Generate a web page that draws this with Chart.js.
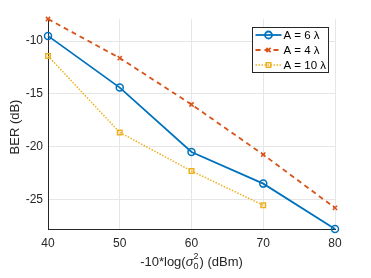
<!DOCTYPE html>
<html>
<head>
<meta charset="utf-8">
<script src="https://cdn.jsdelivr.net/npm/chart.js@4.4.0/dist/chart.umd.min.js"></script>
<style>
  html, body { margin: 0; padding: 0; background: #fff; }
  #wrap { width: 371px; height: 278px; }
</style>
</head>
<body>
<div id="wrap"><canvas id="myChart" width="371" height="278"></canvas></div>
<script>
// values
const xValues = [40, 50, 60, 70, 80];
const berA6 = [-9.5, -14.4, -20.5, -23.5, -27.8];
const berA4 = [-7.9, -11.6, -16.0, -20.75, -25.8];
const berA10 = [-11.4, -18.65, -22.3, -25.55];
const xTicks = [40, 50, 60, 70, 80];
const yTicks = [-25, -20, -15, -10];
const seriesNames = ['A = 6 λ', 'A = 4 λ', 'A = 10 λ'];

const FONT = '"Liberation Sans", Arial, sans-serif';
const blue = '#0072BD', orange = '#D95319', yellow = '#EDB120';

function toPoints(ys) {
  return ys.map((y, i) => ({ x: xValues[i], y: y }));
}

// draws the legend box and both axis titles
const extras = {
  id: 'extras',
  afterDraw(chart) {
    const c = chart.ctx;
    const area = chart.chartArea;
    c.save();

    // legend
    const lx = 252.5, ly = 27.5, lw = 76, lh = 45;
    c.fillStyle = '#fff';
    c.fillRect(lx, ly, lw, lh);
    c.strokeStyle = '#262626';
    c.lineWidth = 1;
    c.strokeRect(lx, ly, lw, lh);
    chart.data.datasets.forEach((ds, i) => {
      const y = ly + 7.5 + i * 15;
      c.save();
      c.strokeStyle = ds.borderColor;
      c.lineWidth = ds.borderWidth;
      c.setLineDash(ds.borderDash || []);
      c.beginPath();
      c.moveTo(lx + 3, y);
      c.lineTo(lx + 29, y);
      c.stroke();
      c.setLineDash([]);
      c.fillStyle = ds.pointBackgroundColor || ds.borderColor;
      Chart.helpers.drawPoint(c, {
        pointStyle: ds.pointStyle,
        radius: ds.pointRadius,
        borderWidth: ds.pointBorderWidth
      }, lx + 16, y);
      c.restore();
      c.fillStyle = '#000';
      c.font = '11.5px ' + FONT;
      c.textBaseline = 'middle';
      c.textAlign = 'left';
      c.fillText(ds.label, lx + 31, y + 1);
    });

    // y title
    c.fillStyle = '#262626';
    c.font = '13px ' + FONT;
    c.translate(15, 127);
    c.rotate(-Math.PI / 2);
    c.textAlign = 'center';
    c.textBaseline = 'middle';
    c.fillText('BER (dB)', 0, 0);
    c.setTransform(1, 0, 0, 1, 0, 0);

    // x title with stacked sub/superscript
    const big = '13px ' + FONT, small = '9px ' + FONT, ital = 'italic 13px ' + FONT;
    const p1 = '-10*log(', p2 = 'σ', p3 = ') (dBm)';
    c.font = big; const w1 = c.measureText(p1).width, w3 = c.measureText(p3).width;
    c.font = ital; const w2 = c.measureText(p2).width;
    c.font = small; const ws = c.measureText('0').width + 1;
    const total = w1 + w2 + ws + w3;
    let x = (area.left + area.right) / 2 - total / 2;
    const base = 266;
    c.textAlign = 'left';
    c.textBaseline = 'alphabetic';
    c.font = big; c.fillText(p1, x, base); x += w1;
    c.font = ital; c.fillText(p2, x, base); x += w2;
    c.font = small;
    c.fillText('2', x, base - 7);
    c.fillText('0', x, base + 3);
    x += ws;
    c.font = big; c.fillText(p3, x, base);

    c.restore();
  }
};

let ctx = document.getElementById('myChart').getContext('2d');
var myChart = new Chart(ctx, {
  type: 'line',
  data: {
    datasets: [
      {
        label: seriesNames[0],
        data: toPoints(berA6),
        borderColor: blue,
        backgroundColor: blue,
        borderWidth: 1.8,
        pointStyle: 'circle',
        pointRadius: 3.5,
        pointBorderWidth: 1.5,
        pointBackgroundColor: 'rgba(0,0,0,0)',
        clip: false
      },
      {
        label: seriesNames[1],
        data: toPoints(berA4),
        borderColor: orange,
        backgroundColor: orange,
        borderWidth: 1.8,
        borderDash: [5, 4],
        pointStyle: 'crossRot',
        pointRadius: 3,
        pointBorderWidth: 1.5,
        clip: false
      },
      {
        label: seriesNames[2],
        data: toPoints(berA10),
        borderColor: yellow,
        backgroundColor: yellow,
        borderWidth: 1.5,
        borderDash: [1.5, 1.5],
        pointStyle: 'rect',
        pointRadius: 3.2,
        pointBorderWidth: 1.5,
        pointBackgroundColor: 'rgba(0,0,0,0)',
        clip: false
      }
    ]
  },
  options: {
    responsive: false,
    animation: false,
    devicePixelRatio: 1,
    layout: { padding: { top: 19, right: 36, left: 0, bottom: 0 } },
    plugins: {
      legend: { display: false },
      tooltip: { enabled: false }
    },
    scales: {
      x: {
        type: 'linear',
        min: 40,
        max: 80,
        afterBuildTicks: s => { s.ticks = xTicks.map(v => ({ value: v })); },
        afterFit: s => { s.height = 49; },
        ticks: { color: '#262626', font: { family: FONT, size: 12 }, padding: 7 },
        grid: { color: '#e6e6e6', drawTicks: false },
        border: { color: '#262626', width: 1 }
      },
      y: {
        min: -27.8,
        max: -7.9,
        afterBuildTicks: s => { s.ticks = yTicks.map(v => ({ value: v })); },
        afterFit: s => { s.width = 48; },
        ticks: { color: '#262626', font: { family: FONT, size: 12 }, padding: 5 },
        grid: { color: '#e6e6e6', drawTicks: false },
        border: { color: '#262626', width: 1 }
      }
    }
  },
  plugins: [extras]
});
</script>
</body>
</html>
